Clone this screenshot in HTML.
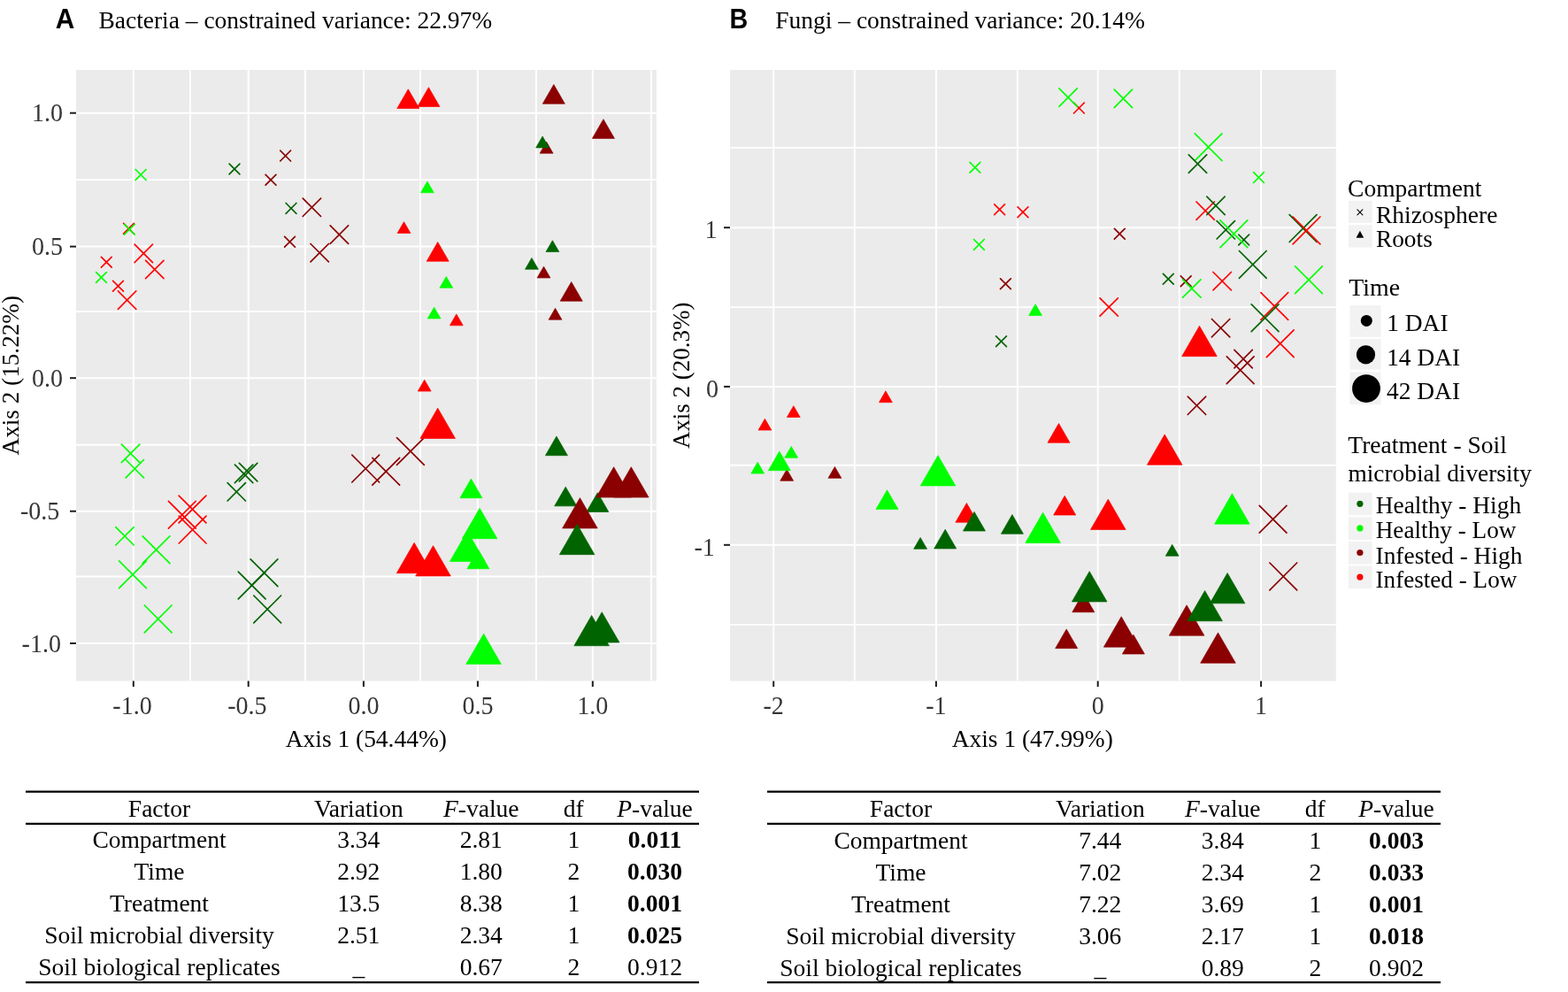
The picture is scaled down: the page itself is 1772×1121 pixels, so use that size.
<!DOCTYPE html><html><head><meta charset="utf-8"><title>Figure</title>
<style>html,body{margin:0;padding:0;background:#fff;}svg{display:block;}</style></head><body>
<svg width="1772" height="1121" viewBox="0 0 1772 1121" font-family="'Liberation Serif','Times New Roman',serif">
<defs>
<clipPath id="ca"><rect x="86" y="79" width="655.9" height="690.5"/></clipPath>
<clipPath id="cb"><rect x="825" y="79" width="684.8" height="690.6"/></clipPath>
</defs>
<rect width="1772" height="1121" fill="#fff"/>
<text x="62.86" y="31.7" font-size="31" font-family="'Liberation Sans',Arial,sans-serif" font-weight="bold" textLength="21.53" lengthAdjust="spacingAndGlyphs">A</text>
<text x="111.41" y="31.6" font-size="28" textLength="444.83" lengthAdjust="spacingAndGlyphs">Bacteria – constrained variance: 22.97%</text>
<text x="824.38" y="31.7" font-size="31" font-family="'Liberation Sans',Arial,sans-serif" font-weight="bold" textLength="20.72" lengthAdjust="spacingAndGlyphs">B</text>
<text x="876.21" y="31.6" font-size="28" textLength="417.83" lengthAdjust="spacingAndGlyphs">Fungi – constrained variance: 20.14%</text>
<rect x="86" y="79" width="655.9" height="690.5" fill="#EBEBEB"/>
<g clip-path="url(#ca)">
<g stroke="#FFFFFF" fill="none">
<line x1="214.9" y1="79" x2="214.9" y2="769.5" stroke-width="1.9"/>
<line x1="344.8" y1="79" x2="344.8" y2="769.5" stroke-width="1.9"/>
<line x1="475" y1="79" x2="475" y2="769.5" stroke-width="1.9"/>
<line x1="605.9" y1="79" x2="605.9" y2="769.5" stroke-width="1.9"/>
<line x1="736" y1="79" x2="736" y2="769.5" stroke-width="1.9"/>
<line x1="86" y1="203.1" x2="741.9" y2="203.1" stroke-width="1.9"/>
<line x1="86" y1="352" x2="741.9" y2="352" stroke-width="1.9"/>
<line x1="86" y1="502.7" x2="741.9" y2="502.7" stroke-width="1.9"/>
<line x1="86" y1="651.5" x2="741.9" y2="651.5" stroke-width="1.9"/>
<line x1="150.8" y1="79" x2="150.8" y2="769.5" stroke-width="2.0"/>
<line x1="280.7" y1="79" x2="280.7" y2="769.5" stroke-width="2.0"/>
<line x1="410.9" y1="79" x2="410.9" y2="769.5" stroke-width="2.0"/>
<line x1="539.9" y1="79" x2="539.9" y2="769.5" stroke-width="2.0"/>
<line x1="669.8" y1="79" x2="669.8" y2="769.5" stroke-width="2.0"/>
<line x1="86" y1="127.7" x2="741.9" y2="127.7" stroke-width="2.0"/>
<line x1="86" y1="278.6" x2="741.9" y2="278.6" stroke-width="2.0"/>
<line x1="86" y1="427.2" x2="741.9" y2="427.2" stroke-width="2.0"/>
<line x1="86" y1="577.7" x2="741.9" y2="577.7" stroke-width="2.0"/>
<line x1="86" y1="727" x2="741.9" y2="727" stroke-width="2.0"/>
</g>
</g>
<g stroke="#1E1E1E" stroke-width="2">
<line x1="150.8" y1="769.5" x2="150.8" y2="776"/>
<line x1="280.7" y1="769.5" x2="280.7" y2="776"/>
<line x1="410.9" y1="769.5" x2="410.9" y2="776"/>
<line x1="539.9" y1="769.5" x2="539.9" y2="776"/>
<line x1="669.8" y1="769.5" x2="669.8" y2="776"/>
<line x1="79" y1="127.7" x2="86" y2="127.7"/>
<line x1="79" y1="278.6" x2="86" y2="278.6"/>
<line x1="79" y1="427.2" x2="86" y2="427.2"/>
<line x1="79" y1="577.7" x2="86" y2="577.7"/>
<line x1="79" y1="727" x2="86" y2="727"/>
</g>
<rect x="825" y="79" width="684.8" height="690.6" fill="#EBEBEB"/>
<g clip-path="url(#cb)">
<g stroke="#FFFFFF" fill="none">
<line x1="965.8" y1="79" x2="965.8" y2="769.6" stroke-width="1.9"/>
<line x1="1149.9" y1="79" x2="1149.9" y2="769.6" stroke-width="1.9"/>
<line x1="1332.8" y1="79" x2="1332.8" y2="769.6" stroke-width="1.9"/>
<line x1="825" y1="166.9" x2="1509.8" y2="166.9" stroke-width="1.9"/>
<line x1="825" y1="347.1" x2="1509.8" y2="347.1" stroke-width="1.9"/>
<line x1="825" y1="525.8" x2="1509.8" y2="525.8" stroke-width="1.9"/>
<line x1="825" y1="705.9" x2="1509.8" y2="705.9" stroke-width="1.9"/>
<line x1="874.2" y1="79" x2="874.2" y2="769.6" stroke-width="2.0"/>
<line x1="1057.9" y1="79" x2="1057.9" y2="769.6" stroke-width="2.0"/>
<line x1="1240.7" y1="79" x2="1240.7" y2="769.6" stroke-width="2.0"/>
<line x1="1425.1" y1="79" x2="1425.1" y2="769.6" stroke-width="2.0"/>
<line x1="825" y1="257.2" x2="1509.8" y2="257.2" stroke-width="2.0"/>
<line x1="825" y1="436.9" x2="1509.8" y2="436.9" stroke-width="2.0"/>
<line x1="825" y1="615.8" x2="1509.8" y2="615.8" stroke-width="2.0"/>
</g>
</g>
<g stroke="#1E1E1E" stroke-width="2">
<line x1="874.2" y1="769.6" x2="874.2" y2="776.1"/>
<line x1="1057.9" y1="769.6" x2="1057.9" y2="776.1"/>
<line x1="1240.7" y1="769.6" x2="1240.7" y2="776.1"/>
<line x1="1425.1" y1="769.6" x2="1425.1" y2="776.1"/>
<line x1="818" y1="257.2" x2="825" y2="257.2"/>
<line x1="818" y1="436.9" x2="825" y2="436.9"/>
<line x1="818" y1="615.8" x2="825" y2="615.8"/>
</g>
<g clip-path="url(#ca)" stroke-linecap="round">
<g fill="none" stroke-width="1.7">
<path d="M153.2 191.5L165 203.3M153.2 203.3L165 191.5" stroke="#00FF00"/>
</g>
<g fill="none" stroke-width="1.7">
<path d="M259.1 185.1L270.9 196.9M259.1 196.9L270.9 185.1" stroke="#006400"/>
</g>
<g fill="none" stroke-width="1.7">
<path d="M316.7 170.2L328.5 182M316.7 182L328.5 170.2" stroke="#8B0000"/>
</g>
<g fill="none" stroke-width="1.7">
<path d="M300.1 197.3L311.9 209.1M300.1 209.1L311.9 197.3" stroke="#8B0000"/>
</g>
<g fill="none" stroke-width="1.7">
<path d="M323.1 229.5L334.9 241.3M323.1 241.3L334.9 229.5" stroke="#006400"/>
</g>
<g fill="none" stroke-width="1.7">
<path d="M321.6 267.4L333.4 279.2M321.6 279.2L333.4 267.4" stroke="#8B0000"/>
</g>
<g fill="none" stroke-width="1.7">
<path d="M139.6 252.3L151.4 264.1M139.6 264.1L151.4 252.3" stroke="#FF0000"/>
</g>
<g fill="none" stroke-width="1.7">
<path d="M140.4 253.3L152.2 265.1M140.4 265.1L152.2 253.3" stroke="#00FF00"/>
</g>
<g fill="none" stroke-width="1.7">
<path d="M114.4 290.3L126.2 302.1M114.4 302.1L126.2 290.3" stroke="#FF0000"/>
</g>
<g fill="none" stroke-width="1.7">
<path d="M108.6 307.6L120.4 319.4M108.6 319.4L120.4 307.6" stroke="#00FF00"/>
</g>
<g fill="none" stroke-width="1.7">
<path d="M127.6 317.4L139.4 329.2M127.6 329.2L139.4 317.4" stroke="#FF0000"/>
</g>
<g fill="none" stroke-width="1.7">
<path d="M342.2 224.1L362.6 244.5M342.2 244.5L362.6 224.1" stroke="#8B0000"/>
</g>
<g fill="none" stroke-width="1.7">
<path d="M373.2 254.9L393.6 275.3M373.2 275.3L393.6 254.9" stroke="#8B0000"/>
</g>
<g fill="none" stroke-width="1.7">
<path d="M351 275.5L371.4 295.9M351 295.9L371.4 275.5" stroke="#8B0000"/>
</g>
<g fill="none" stroke-width="1.7">
<path d="M152.1 276.2L172.5 296.6M152.1 296.6L172.5 276.2" stroke="#FF0000"/>
</g>
<g fill="none" stroke-width="1.7">
<path d="M164.6 294.3L185 314.7M164.6 314.7L185 294.3" stroke="#FF0000"/>
</g>
<g fill="none" stroke-width="1.7">
<path d="M133.4 328.9L153.8 349.3M133.4 349.3L153.8 328.9" stroke="#FF0000"/>
</g>
<g fill="none" stroke-width="1.7">
<path d="M137.4 502.2L157.8 522.6M137.4 522.6L157.8 502.2" stroke="#00FF00"/>
</g>
<g fill="none" stroke-width="1.7">
<path d="M142.1 519.5L162.5 539.9M142.1 539.9L162.5 519.5" stroke="#00FF00"/>
</g>
<g fill="none" stroke-width="1.7">
<path d="M265.4 525.2L285.8 545.6M265.4 545.6L285.8 525.2" stroke="#006400"/>
</g>
<g fill="none" stroke-width="1.7">
<path d="M270.4 523.4L290.8 543.8M270.4 543.8L290.8 523.4" stroke="#006400"/>
</g>
<g fill="none" stroke-width="1.7">
<path d="M257.1 545.6L277.5 566M257.1 566L277.5 545.6" stroke="#006400"/>
</g>
<g fill="none" stroke-width="1.7">
<path d="M130.8 595.6L151.2 616M130.8 616L151.2 595.6" stroke="#00FF00"/>
</g>
<g fill="none" stroke-width="1.7">
<path d="M190.4 566.4L221.2 597.2M190.4 597.2L221.2 566.4" stroke="#FF0000"/>
</g>
<g fill="none" stroke-width="1.7">
<path d="M202.1 560.1L232.9 590.9M202.1 590.9L232.9 560.1" stroke="#FF0000"/>
</g>
<g fill="none" stroke-width="1.7">
<path d="M202.2 583.2L233 614M202.2 614L233 583.2" stroke="#FF0000"/>
</g>
<g fill="none" stroke-width="1.7">
<path d="M161.1 605.8L191.9 636.6M161.1 636.6L191.9 605.8" stroke="#00FF00"/>
</g>
<g fill="none" stroke-width="1.7">
<path d="M134.6 633.9L165.4 664.7M134.6 664.7L165.4 633.9" stroke="#00FF00"/>
</g>
<g fill="none" stroke-width="1.7">
<path d="M163.3 684L194.1 714.8M163.3 714.8L194.1 684" stroke="#00FF00"/>
</g>
<g fill="none" stroke-width="1.7">
<path d="M283.1 631.9L313.9 662.7M283.1 662.7L313.9 631.9" stroke="#006400"/>
</g>
<g fill="none" stroke-width="1.7">
<path d="M269.3 646.1L300.1 676.9M269.3 676.9L300.1 646.1" stroke="#006400"/>
</g>
<g fill="none" stroke-width="1.7">
<path d="M286.8 673L317.6 703.8M286.8 703.8L317.6 673" stroke="#006400"/>
</g>
<g fill="none" stroke-width="1.7">
<path d="M397.8 514.2L428.6 545M397.8 545L428.6 514.2" stroke="#8B0000"/>
</g>
<g fill="none" stroke-width="1.7">
<path d="M420.8 517.4L451.6 548.2M420.8 548.2L451.6 517.4" stroke="#8B0000"/>
</g>
<g fill="none" stroke-width="1.7">
<path d="M448.5 494.6L479.3 525.4M448.5 525.4L479.3 494.6" stroke="#8B0000"/>
</g>
<g stroke-width="0.7" stroke-linejoin="miter" stroke-linecap="butt">
<path d="M617.6 160.35L625.01 173.18L610.19 173.18Z" fill="#8B0000" stroke="#8B0000"/>
</g>
<g stroke-width="0.7" stroke-linejoin="miter" stroke-linecap="butt">
<path d="M613.1 154.05L620.51 166.88L605.69 166.88Z" fill="#006400" stroke="#006400"/>
</g>
<g stroke-width="0.7" stroke-linejoin="miter" stroke-linecap="butt">
<path d="M482.9 204.95L490.31 217.78L475.49 217.78Z" fill="#00FF00" stroke="#00FF00"/>
</g>
<g stroke-width="0.7" stroke-linejoin="miter" stroke-linecap="butt">
<path d="M456.5 250.65L463.91 263.48L449.09 263.48Z" fill="#FF0000" stroke="#FF0000"/>
</g>
<g stroke-width="0.7" stroke-linejoin="miter" stroke-linecap="butt">
<path d="M624.4 271.75L631.81 284.58L616.99 284.58Z" fill="#006400" stroke="#006400"/>
</g>
<g stroke-width="0.7" stroke-linejoin="miter" stroke-linecap="butt">
<path d="M600.9 291.45L608.31 304.28L593.49 304.28Z" fill="#006400" stroke="#006400"/>
</g>
<g stroke-width="0.7" stroke-linejoin="miter" stroke-linecap="butt">
<path d="M614.5 301.15L621.91 313.98L607.09 313.98Z" fill="#8B0000" stroke="#8B0000"/>
</g>
<g stroke-width="0.7" stroke-linejoin="miter" stroke-linecap="butt">
<path d="M504.3 312.45L511.71 325.28L496.89 325.28Z" fill="#00FF00" stroke="#00FF00"/>
</g>
<g stroke-width="0.7" stroke-linejoin="miter" stroke-linecap="butt">
<path d="M490.6 347.15L498.01 359.98L483.19 359.98Z" fill="#00FF00" stroke="#00FF00"/>
</g>
<g stroke-width="0.7" stroke-linejoin="miter" stroke-linecap="butt">
<path d="M515.8 354.95L523.21 367.78L508.39 367.78Z" fill="#FF0000" stroke="#FF0000"/>
</g>
<g stroke-width="0.7" stroke-linejoin="miter" stroke-linecap="butt">
<path d="M627.5 348.35L634.91 361.18L620.09 361.18Z" fill="#8B0000" stroke="#8B0000"/>
</g>
<g stroke-width="0.7" stroke-linejoin="miter" stroke-linecap="butt">
<path d="M479.7 429.25L487.11 442.08L472.29 442.08Z" fill="#FF0000" stroke="#FF0000"/>
</g>
<g stroke-width="0.7" stroke-linejoin="miter" stroke-linecap="butt">
<path d="M461.3 100.84L473.82 122.53L448.78 122.53Z" fill="#FF0000" stroke="#FF0000"/>
</g>
<g stroke-width="0.7" stroke-linejoin="miter" stroke-linecap="butt">
<path d="M484.4 98.74L496.92 120.43L471.88 120.43Z" fill="#FF0000" stroke="#FF0000"/>
</g>
<g stroke-width="0.7" stroke-linejoin="miter" stroke-linecap="butt">
<path d="M625.8 95.54L638.32 117.23L613.28 117.23Z" fill="#8B0000" stroke="#8B0000"/>
</g>
<g stroke-width="0.7" stroke-linejoin="miter" stroke-linecap="butt">
<path d="M681.9 134.74L694.42 156.43L669.38 156.43Z" fill="#8B0000" stroke="#8B0000"/>
</g>
<g stroke-width="0.7" stroke-linejoin="miter" stroke-linecap="butt">
<path d="M494.7 273.54L507.22 295.23L482.18 295.23Z" fill="#FF0000" stroke="#FF0000"/>
</g>
<g stroke-width="0.7" stroke-linejoin="miter" stroke-linecap="butt">
<path d="M645.7 318.54L658.22 340.23L633.18 340.23Z" fill="#8B0000" stroke="#8B0000"/>
</g>
<g stroke-width="0.7" stroke-linejoin="miter" stroke-linecap="butt">
<path d="M628.9 493.04L641.42 514.73L616.38 514.73Z" fill="#006400" stroke="#006400"/>
</g>
<g stroke-width="0.7" stroke-linejoin="miter" stroke-linecap="butt">
<path d="M532.4 541.04L544.92 562.73L519.88 562.73Z" fill="#00FF00" stroke="#00FF00"/>
</g>
<g stroke-width="0.7" stroke-linejoin="miter" stroke-linecap="butt">
<path d="M639.2 550.14L651.72 571.83L626.68 571.83Z" fill="#006400" stroke="#006400"/>
</g>
<g stroke-width="0.7" stroke-linejoin="miter" stroke-linecap="butt">
<path d="M675.3 556.74L687.82 578.43L662.78 578.43Z" fill="#006400" stroke="#006400"/>
</g>
<g stroke-width="0.7" stroke-linejoin="miter" stroke-linecap="butt">
<path d="M494.7 461.14L514.5 495.43L474.9 495.43Z" fill="#FF0000" stroke="#FF0000"/>
</g>
<g stroke-width="0.7" stroke-linejoin="miter" stroke-linecap="butt">
<path d="M468.1 613.34L487.9 647.63L448.3 647.63Z" fill="#FF0000" stroke="#FF0000"/>
</g>
<g stroke-width="0.7" stroke-linejoin="miter" stroke-linecap="butt">
<path d="M489.5 616.64L509.3 650.93L469.7 650.93Z" fill="#FF0000" stroke="#FF0000"/>
</g>
<g stroke-width="0.7" stroke-linejoin="miter" stroke-linecap="butt">
<path d="M528.2 600.14L548 634.43L508.4 634.43Z" fill="#00FF00" stroke="#00FF00"/>
</g>
<g stroke-width="0.7" stroke-linejoin="miter" stroke-linecap="butt">
<path d="M540.4 621.04L552.92 642.73L527.88 642.73Z" fill="#00FF00" stroke="#00FF00"/>
</g>
<g stroke-width="0.7" stroke-linejoin="miter" stroke-linecap="butt">
<path d="M542.1 574.34L561.9 608.63L522.3 608.63Z" fill="#00FF00" stroke="#00FF00"/>
</g>
<g stroke-width="0.7" stroke-linejoin="miter" stroke-linecap="butt">
<path d="M693.6 527.74L713.4 562.03L673.8 562.03Z" fill="#8B0000" stroke="#8B0000"/>
</g>
<g stroke-width="0.7" stroke-linejoin="miter" stroke-linecap="butt">
<path d="M713.3 527.74L733.1 562.03L693.5 562.03Z" fill="#8B0000" stroke="#8B0000"/>
</g>
<g stroke-width="0.7" stroke-linejoin="miter" stroke-linecap="butt">
<path d="M655.4 562.64L675.2 596.93L635.6 596.93Z" fill="#8B0000" stroke="#8B0000"/>
</g>
<g stroke-width="0.7" stroke-linejoin="miter" stroke-linecap="butt">
<path d="M652.1 592.34L671.9 626.63L632.3 626.63Z" fill="#006400" stroke="#006400"/>
</g>
<g stroke-width="0.7" stroke-linejoin="miter" stroke-linecap="butt">
<path d="M546.6 716.14L566.4 750.43L526.8 750.43Z" fill="#00FF00" stroke="#00FF00"/>
</g>
<g stroke-width="0.7" stroke-linejoin="miter" stroke-linecap="butt">
<path d="M668.6 695.44L688.4 729.73L648.8 729.73Z" fill="#006400" stroke="#006400"/>
</g>
<g stroke-width="0.7" stroke-linejoin="miter" stroke-linecap="butt">
<path d="M680.2 691.74L700 726.03L660.4 726.03Z" fill="#006400" stroke="#006400"/>
</g>
</g>
<g clip-path="url(#cb)" stroke-linecap="round">
<g fill="none" stroke-width="1.7">
<path d="M1096 183.3L1107.8 195.1M1096 195.1L1107.8 183.3" stroke="#00FF00"/>
</g>
<g fill="none" stroke-width="1.7">
<path d="M1123.7 230.9L1135.5 242.7M1123.7 242.7L1135.5 230.9" stroke="#FF0000"/>
</g>
<g fill="none" stroke-width="1.7">
<path d="M1150.1 233.9L1161.9 245.7M1150.1 245.7L1161.9 233.9" stroke="#FF0000"/>
</g>
<g fill="none" stroke-width="1.7">
<path d="M1100.5 270.5L1112.3 282.3M1100.5 282.3L1112.3 270.5" stroke="#00FF00"/>
</g>
<g fill="none" stroke-width="1.7">
<path d="M1259.4 258.4L1271.2 270.2M1259.4 270.2L1271.2 258.4" stroke="#8B0000"/>
</g>
<g fill="none" stroke-width="1.7">
<path d="M1130.5 314.9L1142.3 326.7M1130.5 326.7L1142.3 314.9" stroke="#8B0000"/>
</g>
<g fill="none" stroke-width="1.7">
<path d="M1125.6 379.9L1137.4 391.7M1125.6 391.7L1137.4 379.9" stroke="#006400"/>
</g>
<g fill="none" stroke-width="1.7">
<path d="M1416.6 194.7L1428.4 206.5M1416.6 206.5L1428.4 194.7" stroke="#00FF00"/>
</g>
<g fill="none" stroke-width="1.7">
<path d="M1314.4 309.3L1326.2 321.1M1314.4 321.1L1326.2 309.3" stroke="#006400"/>
</g>
<g fill="none" stroke-width="1.7">
<path d="M1334.3 311.8L1346.1 323.6M1334.3 323.6L1346.1 311.8" stroke="#8B0000"/>
</g>
<g fill="none" stroke-width="1.7">
<path d="M1399.8 265.1L1411.6 276.9M1399.8 276.9L1411.6 265.1" stroke="#006400"/>
</g>
<g fill="none" stroke-width="1.7">
<path d="M1213.5 116.2L1225.3 128M1213.5 128L1225.3 116.2" stroke="#FF0000"/>
</g>
<g fill="none" stroke-width="1.7">
<path d="M1196.9 99.9L1217.3 120.3M1196.9 120.3L1217.3 99.9" stroke="#00FF00"/>
</g>
<g fill="none" stroke-width="1.7">
<path d="M1259.2 101.2L1279.6 121.6M1259.2 121.6L1279.6 101.2" stroke="#00FF00"/>
</g>
<g fill="none" stroke-width="1.7">
<path d="M1352 228L1372.4 248.4M1352 248.4L1372.4 228" stroke="#FF0000"/>
</g>
<g fill="none" stroke-width="1.7">
<path d="M1363.8 222.2L1384.2 242.6M1363.8 242.6L1384.2 222.2" stroke="#006400"/>
</g>
<g fill="none" stroke-width="1.7">
<path d="M1375.1 249.6L1395.5 270M1375.1 270L1395.5 249.6" stroke="#006400"/>
</g>
<g fill="none" stroke-width="1.7">
<path d="M1336.6 315.8L1357 336.2M1336.6 336.2L1357 315.8" stroke="#00FF00"/>
</g>
<g fill="none" stroke-width="1.7">
<path d="M1371 307.5L1391.4 327.9M1371 327.9L1391.4 307.5" stroke="#FF0000"/>
</g>
<g fill="none" stroke-width="1.7">
<path d="M1243 336.8L1263.4 357.2M1243 357.2L1263.4 336.8" stroke="#FF0000"/>
</g>
<g fill="none" stroke-width="1.7">
<path d="M1369.4 360.5L1389.8 380.9M1369.4 380.9L1389.8 360.5" stroke="#8B0000"/>
</g>
<g fill="none" stroke-width="1.7">
<path d="M1394.9 395.4L1415.3 415.8M1394.9 415.8L1415.3 395.4" stroke="#8B0000"/>
</g>
<g fill="none" stroke-width="1.7">
<path d="M1342.3 448.1L1362.7 468.5M1342.3 468.5L1362.7 448.1" stroke="#8B0000"/>
</g>
<g fill="none" stroke-width="1.7">
<path d="M1350.2 150.9L1381 181.7M1350.2 181.7L1381 150.9" stroke="#00FF00"/>
</g>
<g fill="none" stroke-width="1.7">
<path d="M1343.3 174.9L1363.7 195.3M1343.3 195.3L1363.7 174.9" stroke="#006400"/>
</g>
<g fill="none" stroke-width="1.7">
<path d="M1379 248.9L1409.8 279.7M1379 279.7L1409.8 248.9" stroke="#00FF00"/>
</g>
<g fill="none" stroke-width="1.7">
<path d="M1457.2 242.7L1488 273.5M1457.2 273.5L1488 242.7" stroke="#006400"/>
</g>
<g fill="none" stroke-width="1.7">
<path d="M1461.1 245L1491.9 275.8M1461.1 275.8L1491.9 245" stroke="#FF0000"/>
</g>
<g fill="none" stroke-width="1.7">
<path d="M1400.4 283.5L1431.2 314.3M1400.4 314.3L1431.2 283.5" stroke="#006400"/>
</g>
<g fill="none" stroke-width="1.7">
<path d="M1463.6 300.9L1494.4 331.7M1463.6 331.7L1494.4 300.9" stroke="#00FF00"/>
</g>
<g fill="none" stroke-width="1.7">
<path d="M1424.9 330.6L1455.7 361.4M1424.9 361.4L1455.7 330.6" stroke="#FF0000"/>
</g>
<g fill="none" stroke-width="1.7">
<path d="M1414.2 343.8L1445 374.6M1414.2 374.6L1445 343.8" stroke="#006400"/>
</g>
<g fill="none" stroke-width="1.7">
<path d="M1431.4 372.8L1462.2 403.6M1431.4 403.6L1462.2 372.8" stroke="#FF0000"/>
</g>
<g fill="none" stroke-width="1.7">
<path d="M1386.3 402.9L1417.1 433.7M1386.3 433.7L1417.1 402.9" stroke="#8B0000"/>
</g>
<g fill="none" stroke-width="1.7">
<path d="M1423.2 571.3L1454 602.1M1423.2 602.1L1454 571.3" stroke="#8B0000"/>
</g>
<g fill="none" stroke-width="1.7">
<path d="M1434.9 636L1465.7 666.8M1434.9 666.8L1465.7 636" stroke="#8B0000"/>
</g>
<g stroke-width="0.7" stroke-linejoin="miter" stroke-linecap="butt">
<path d="M1000.9 441.85L1008.31 454.68L993.49 454.68Z" fill="#FF0000" stroke="#FF0000"/>
</g>
<g stroke-width="0.7" stroke-linejoin="miter" stroke-linecap="butt">
<path d="M896.8 458.65L904.21 471.48L889.39 471.48Z" fill="#FF0000" stroke="#FF0000"/>
</g>
<g stroke-width="0.7" stroke-linejoin="miter" stroke-linecap="butt">
<path d="M864.4 473.25L871.81 486.08L856.99 486.08Z" fill="#FF0000" stroke="#FF0000"/>
</g>
<g stroke-width="0.7" stroke-linejoin="miter" stroke-linecap="butt">
<path d="M894.2 504.45L901.61 517.28L886.79 517.28Z" fill="#00FF00" stroke="#00FF00"/>
</g>
<g stroke-width="0.7" stroke-linejoin="miter" stroke-linecap="butt">
<path d="M889.2 530.45L896.61 543.28L881.79 543.28Z" fill="#8B0000" stroke="#8B0000"/>
</g>
<g stroke-width="0.7" stroke-linejoin="miter" stroke-linecap="butt">
<path d="M880.8 510.04L893.32 531.73L868.28 531.73Z" fill="#00FF00" stroke="#00FF00"/>
</g>
<g stroke-width="0.7" stroke-linejoin="miter" stroke-linecap="butt">
<path d="M856.2 522.25L863.61 535.08L848.79 535.08Z" fill="#00FF00" stroke="#00FF00"/>
</g>
<g stroke-width="0.7" stroke-linejoin="miter" stroke-linecap="butt">
<path d="M943.4 527.45L950.81 540.28L935.99 540.28Z" fill="#8B0000" stroke="#8B0000"/>
</g>
<g stroke-width="0.7" stroke-linejoin="miter" stroke-linecap="butt">
<path d="M1040.1 607.45L1047.51 620.28L1032.69 620.28Z" fill="#006400" stroke="#006400"/>
</g>
<g stroke-width="0.7" stroke-linejoin="miter" stroke-linecap="butt">
<path d="M1170.1 343.65L1177.51 356.48L1162.69 356.48Z" fill="#00FF00" stroke="#00FF00"/>
</g>
<g stroke-width="0.7" stroke-linejoin="miter" stroke-linecap="butt">
<path d="M1324.7 615.35L1332.11 628.18L1317.29 628.18Z" fill="#006400" stroke="#006400"/>
</g>
<g stroke-width="0.7" stroke-linejoin="miter" stroke-linecap="butt">
<path d="M1002.5 553.74L1015.02 575.43L989.98 575.43Z" fill="#00FF00" stroke="#00FF00"/>
</g>
<g stroke-width="0.7" stroke-linejoin="miter" stroke-linecap="butt">
<path d="M1092.4 568.54L1104.92 590.23L1079.88 590.23Z" fill="#FF0000" stroke="#FF0000"/>
</g>
<g stroke-width="0.7" stroke-linejoin="miter" stroke-linecap="butt">
<path d="M1101 578.34L1113.52 600.03L1088.48 600.03Z" fill="#006400" stroke="#006400"/>
</g>
<g stroke-width="0.7" stroke-linejoin="miter" stroke-linecap="butt">
<path d="M1143.9 581.54L1156.42 603.23L1131.38 603.23Z" fill="#006400" stroke="#006400"/>
</g>
<g stroke-width="0.7" stroke-linejoin="miter" stroke-linecap="butt">
<path d="M1068.2 598.24L1080.72 619.93L1055.68 619.93Z" fill="#006400" stroke="#006400"/>
</g>
<g stroke-width="0.7" stroke-linejoin="miter" stroke-linecap="butt">
<path d="M1196.5 478.54L1209.02 500.23L1183.98 500.23Z" fill="#FF0000" stroke="#FF0000"/>
</g>
<g stroke-width="0.7" stroke-linejoin="miter" stroke-linecap="butt">
<path d="M1203.2 560.34L1215.72 582.03L1190.68 582.03Z" fill="#FF0000" stroke="#FF0000"/>
</g>
<g stroke-width="0.7" stroke-linejoin="miter" stroke-linecap="butt">
<path d="M1224.3 670.04L1236.82 691.73L1211.78 691.73Z" fill="#8B0000" stroke="#8B0000"/>
</g>
<g stroke-width="0.7" stroke-linejoin="miter" stroke-linecap="butt">
<path d="M1205.2 710.94L1217.72 732.63L1192.68 732.63Z" fill="#8B0000" stroke="#8B0000"/>
</g>
<g stroke-width="0.7" stroke-linejoin="miter" stroke-linecap="butt">
<path d="M1060 514.64L1079.8 548.93L1040.2 548.93Z" fill="#00FF00" stroke="#00FF00"/>
</g>
<g stroke-width="0.7" stroke-linejoin="miter" stroke-linecap="butt">
<path d="M1355.5 368.34L1375.3 402.63L1335.7 402.63Z" fill="#FF0000" stroke="#FF0000"/>
</g>
<g stroke-width="0.7" stroke-linejoin="miter" stroke-linecap="butt">
<path d="M1316.2 490.94L1336 525.23L1296.4 525.23Z" fill="#FF0000" stroke="#FF0000"/>
</g>
<g stroke-width="0.7" stroke-linejoin="miter" stroke-linecap="butt">
<path d="M1252.3 564.14L1272.1 598.43L1232.5 598.43Z" fill="#FF0000" stroke="#FF0000"/>
</g>
<g stroke-width="0.7" stroke-linejoin="miter" stroke-linecap="butt">
<path d="M1178.6 579.14L1198.4 613.43L1158.8 613.43Z" fill="#00FF00" stroke="#00FF00"/>
</g>
<g stroke-width="0.7" stroke-linejoin="miter" stroke-linecap="butt">
<path d="M1392.4 557.84L1412.2 592.13L1372.6 592.13Z" fill="#00FF00" stroke="#00FF00"/>
</g>
<g stroke-width="0.7" stroke-linejoin="miter" stroke-linecap="butt">
<path d="M1231.2 645.64L1251 679.93L1211.4 679.93Z" fill="#006400" stroke="#006400"/>
</g>
<g stroke-width="0.7" stroke-linejoin="miter" stroke-linecap="butt">
<path d="M1267.2 696.84L1287 731.13L1247.4 731.13Z" fill="#8B0000" stroke="#8B0000"/>
</g>
<g stroke-width="0.7" stroke-linejoin="miter" stroke-linecap="butt">
<path d="M1280.9 717.34L1293.42 739.03L1268.38 739.03Z" fill="#8B0000" stroke="#8B0000"/>
</g>
<g stroke-width="0.7" stroke-linejoin="miter" stroke-linecap="butt">
<path d="M1341.1 683.84L1360.9 718.13L1321.3 718.13Z" fill="#8B0000" stroke="#8B0000"/>
</g>
<g stroke-width="0.7" stroke-linejoin="miter" stroke-linecap="butt">
<path d="M1387.1 647.54L1406.9 681.83L1367.3 681.83Z" fill="#006400" stroke="#006400"/>
</g>
<g stroke-width="0.7" stroke-linejoin="miter" stroke-linecap="butt">
<path d="M1361.6 667.44L1381.4 701.73L1341.8 701.73Z" fill="#006400" stroke="#006400"/>
</g>
<g stroke-width="0.7" stroke-linejoin="miter" stroke-linecap="butt">
<path d="M1376.5 714.94L1396.3 749.23L1356.7 749.23Z" fill="#8B0000" stroke="#8B0000"/>
</g>
</g>
<text x="71" y="137.3" font-size="29" text-anchor="end" fill="#363636" textLength="35" lengthAdjust="spacingAndGlyphs">1.0</text>
<text x="71" y="288.2" font-size="29" text-anchor="end" fill="#363636" textLength="35" lengthAdjust="spacingAndGlyphs">0.5</text>
<text x="71" y="436.8" font-size="29" text-anchor="end" fill="#363636" textLength="35" lengthAdjust="spacingAndGlyphs">0.0</text>
<text x="67.2" y="587.3" font-size="29" text-anchor="end" fill="#363636" textLength="44.32" lengthAdjust="spacingAndGlyphs">-0.5</text>
<text x="68.9" y="736.6" font-size="29" text-anchor="end" fill="#363636" textLength="44.32" lengthAdjust="spacingAndGlyphs">-1.0</text>
<text x="149.5" y="806.6" font-size="29" text-anchor="middle" fill="#363636" textLength="44.32" lengthAdjust="spacingAndGlyphs">-1.0</text>
<text x="279.4" y="806.6" font-size="29" text-anchor="middle" fill="#363636" textLength="44.32" lengthAdjust="spacingAndGlyphs">-0.5</text>
<text x="410.9" y="806.6" font-size="29" text-anchor="middle" fill="#363636" textLength="35" lengthAdjust="spacingAndGlyphs">0.0</text>
<text x="539.9" y="806.6" font-size="29" text-anchor="middle" fill="#363636" textLength="35" lengthAdjust="spacingAndGlyphs">0.5</text>
<text x="669.8" y="806.6" font-size="29" text-anchor="middle" fill="#363636" textLength="35" lengthAdjust="spacingAndGlyphs">1.0</text>
<text x="810.6" y="269.3" font-size="29" text-anchor="end" fill="#363636" textLength="14" lengthAdjust="spacingAndGlyphs">1</text>
<text x="812.1" y="449" font-size="29" text-anchor="end" fill="#363636" textLength="14" lengthAdjust="spacingAndGlyphs">0</text>
<text x="807.7" y="627.9" font-size="29" text-anchor="end" fill="#363636" textLength="23.32" lengthAdjust="spacingAndGlyphs">-1</text>
<text x="874.2" y="806.6" font-size="29" text-anchor="middle" fill="#363636" textLength="23.32" lengthAdjust="spacingAndGlyphs">-2</text>
<text x="1057.9" y="806.6" font-size="29" text-anchor="middle" fill="#363636" textLength="23.32" lengthAdjust="spacingAndGlyphs">-1</text>
<text x="1240.7" y="806.6" font-size="29" text-anchor="middle" fill="#363636" textLength="14" lengthAdjust="spacingAndGlyphs">0</text>
<text x="1425.1" y="806.6" font-size="29" text-anchor="middle" fill="#363636" textLength="14" lengthAdjust="spacingAndGlyphs">1</text>
<text x="322.73" y="844" font-size="28" textLength="182.17" lengthAdjust="spacingAndGlyphs">Axis 1 (54.44%)</text>
<text x="1075.73" y="844" font-size="28" textLength="182.07" lengthAdjust="spacingAndGlyphs">Axis 1 (47.99%)</text>
<text transform="translate(21,424.2) rotate(-90)" font-size="27.5" text-anchor="middle" textLength="180.4" lengthAdjust="spacingAndGlyphs">Axis 2 (15.22%)</text>
<text transform="translate(778.8,424.3) rotate(-90)" font-size="27.5" text-anchor="middle" textLength="165.6" lengthAdjust="spacingAndGlyphs">Axis 2 (20.3%)</text>
<text x="1523.07" y="221.6" font-size="27.5" textLength="151.29" lengthAdjust="spacingAndGlyphs">Compartment</text>
<rect x="1524" y="226.8" width="26.6" height="25.1" fill="#F2F2F2"/>
<rect x="1524" y="254.3" width="26.6" height="25.3" fill="#F2F2F2"/>
<text x="1554.91" y="251.8" font-size="27.5" textLength="137.45" lengthAdjust="spacingAndGlyphs">Rhizosphere</text>
<text x="1554.91" y="279" font-size="27.5" textLength="63.88" lengthAdjust="spacingAndGlyphs">Roots</text>
<path d="M1533.9 236.9L1539.9 242.9M1533.9 242.9L1539.9 236.9" stroke="#000" stroke-width="1.1" stroke-linecap="round"/>
<path d="M1536.9 261.3L1540.8 268.4L1533 268.4Z" fill="#000" stroke="#000" stroke-width="0.5"/>
<text x="1524.2" y="334" font-size="27.5" textLength="57.85" lengthAdjust="spacingAndGlyphs">Time</text>
<rect x="1525.4" y="345.1" width="35.2" height="35.7" fill="#F2F2F2"/>
<rect x="1525.4" y="383.1" width="35.2" height="34.6" fill="#F2F2F2"/>
<rect x="1525.4" y="420.4" width="35.2" height="36.7" fill="#F2F2F2"/>
<circle cx="1544.3" cy="362.4" r="6.5" fill="#000"/>
<circle cx="1543.5" cy="400.8" r="10.6" fill="#000"/>
<circle cx="1544" cy="439.1" r="15.9" fill="#000"/>
<text x="1567.19" y="373.7" font-size="27.5" textLength="69.38" lengthAdjust="spacingAndGlyphs">1 DAI</text>
<text x="1567.19" y="413.1" font-size="27.5" textLength="82.87" lengthAdjust="spacingAndGlyphs">14 DAI</text>
<text x="1566.96" y="450.9" font-size="27.5" textLength="83.1" lengthAdjust="spacingAndGlyphs">42 DAI</text>
<text x="1523.31" y="511.9" font-size="27.5" textLength="179.54" lengthAdjust="spacingAndGlyphs">Treatment - Soil</text>
<text x="1523.43" y="544.4" font-size="27.5" textLength="207.48" lengthAdjust="spacingAndGlyphs">microbial diversity</text>
<rect x="1523.8" y="556.7" width="26.9" height="25.6" fill="#F2F2F2"/>
<circle cx="1536.9" cy="569.3" r="3.6" fill="#006400"/>
<text x="1554.71" y="580" font-size="27.5" textLength="164.45" lengthAdjust="spacingAndGlyphs">Healthy - High</text>
<rect x="1523.8" y="584.3" width="26.9" height="25.6" fill="#F2F2F2"/>
<circle cx="1536.9" cy="596.9" r="3.6" fill="#00FF00"/>
<text x="1554.72" y="608.4" font-size="27.5" textLength="158.7" lengthAdjust="spacingAndGlyphs">Healthy - Low</text>
<rect x="1523.8" y="611.9" width="26.9" height="25.6" fill="#F2F2F2"/>
<circle cx="1536.9" cy="624.5" r="3.6" fill="#8B0000"/>
<text x="1554.51" y="636.7" font-size="27.5" textLength="165.95" lengthAdjust="spacingAndGlyphs">Infested - High</text>
<rect x="1523.8" y="639.5" width="26.9" height="25.6" fill="#F2F2F2"/>
<circle cx="1536.9" cy="652.1" r="3.6" fill="#FF0000"/>
<text x="1554.52" y="663.9" font-size="27.5" textLength="159.8" lengthAdjust="spacingAndGlyphs">Infested - Low</text>
<g stroke="#000" stroke-width="2.3">
<line x1="29" y1="894.6" x2="790" y2="894.6"/>
<line x1="29" y1="930.8" x2="790" y2="930.8"/>
<line x1="29" y1="1110.2" x2="790" y2="1110.2"/>
</g>
<text x="180" y="922.9" font-size="27.5" text-anchor="middle">Factor</text>
<text x="405.3" y="922.9" font-size="27.5" text-anchor="middle">Variation</text>
<text x="543.8" y="922.9" font-size="27.5" text-anchor="middle"><tspan font-style="italic">F</tspan>-value</text>
<text x="648.3" y="922.9" font-size="27.5" text-anchor="middle">df</text>
<text x="740" y="922.9" font-size="27.5" text-anchor="middle"><tspan font-style="italic">P</tspan>-value</text>
<text x="180" y="958.4" font-size="27.5" text-anchor="middle">Compartment</text>
<text x="405.3" y="958.4" font-size="27.5" text-anchor="middle">3.34</text>
<text x="543.8" y="958.4" font-size="27.5" text-anchor="middle">2.81</text>
<text x="648.3" y="958.4" font-size="27.5" text-anchor="middle">1</text>
<text x="740" y="958.4" font-size="27.5" text-anchor="middle" font-weight="bold">0.011</text>
<text x="180" y="994.4" font-size="27.5" text-anchor="middle">Time</text>
<text x="405.3" y="994.4" font-size="27.5" text-anchor="middle">2.92</text>
<text x="543.8" y="994.4" font-size="27.5" text-anchor="middle">1.80</text>
<text x="648.3" y="994.4" font-size="27.5" text-anchor="middle">2</text>
<text x="740" y="994.4" font-size="27.5" text-anchor="middle" font-weight="bold">0.030</text>
<text x="180" y="1030.4" font-size="27.5" text-anchor="middle">Treatment</text>
<text x="405.3" y="1030.4" font-size="27.5" text-anchor="middle">13.5</text>
<text x="543.8" y="1030.4" font-size="27.5" text-anchor="middle">8.38</text>
<text x="648.3" y="1030.4" font-size="27.5" text-anchor="middle">1</text>
<text x="740" y="1030.4" font-size="27.5" text-anchor="middle" font-weight="bold">0.001</text>
<text x="180" y="1066.4" font-size="27.5" text-anchor="middle">Soil microbial diversity</text>
<text x="405.3" y="1066.4" font-size="27.5" text-anchor="middle">2.51</text>
<text x="543.8" y="1066.4" font-size="27.5" text-anchor="middle">2.34</text>
<text x="648.3" y="1066.4" font-size="27.5" text-anchor="middle">1</text>
<text x="740" y="1066.4" font-size="27.5" text-anchor="middle" font-weight="bold">0.025</text>
<text x="180" y="1102.4" font-size="27.5" text-anchor="middle">Soil biological replicates</text>
<text x="405.3" y="1102.4" font-size="27.5" text-anchor="middle">_</text>
<text x="543.8" y="1102.4" font-size="27.5" text-anchor="middle">0.67</text>
<text x="648.3" y="1102.4" font-size="27.5" text-anchor="middle">2</text>
<text x="740" y="1102.4" font-size="27.5" text-anchor="middle">0.912</text>
<g stroke="#000" stroke-width="2.3">
<line x1="867" y1="894.6" x2="1628" y2="894.6"/>
<line x1="867" y1="930.8" x2="1628" y2="930.8"/>
<line x1="867" y1="1110.2" x2="1628" y2="1110.2"/>
</g>
<text x="1018" y="922.9" font-size="27.5" text-anchor="middle">Factor</text>
<text x="1243.3" y="922.9" font-size="27.5" text-anchor="middle">Variation</text>
<text x="1381.8" y="922.9" font-size="27.5" text-anchor="middle"><tspan font-style="italic">F</tspan>-value</text>
<text x="1486.3" y="922.9" font-size="27.5" text-anchor="middle">df</text>
<text x="1578" y="922.9" font-size="27.5" text-anchor="middle"><tspan font-style="italic">P</tspan>-value</text>
<text x="1018" y="958.9" font-size="27.5" text-anchor="middle">Compartment</text>
<text x="1243.3" y="958.9" font-size="27.5" text-anchor="middle">7.44</text>
<text x="1381.8" y="958.9" font-size="27.5" text-anchor="middle">3.84</text>
<text x="1486.3" y="958.9" font-size="27.5" text-anchor="middle">1</text>
<text x="1578" y="958.9" font-size="27.5" text-anchor="middle" font-weight="bold">0.003</text>
<text x="1018" y="994.9" font-size="27.5" text-anchor="middle">Time</text>
<text x="1243.3" y="994.9" font-size="27.5" text-anchor="middle">7.02</text>
<text x="1381.8" y="994.9" font-size="27.5" text-anchor="middle">2.34</text>
<text x="1486.3" y="994.9" font-size="27.5" text-anchor="middle">2</text>
<text x="1578" y="994.9" font-size="27.5" text-anchor="middle" font-weight="bold">0.033</text>
<text x="1018" y="1030.9" font-size="27.5" text-anchor="middle">Treatment</text>
<text x="1243.3" y="1030.9" font-size="27.5" text-anchor="middle">7.22</text>
<text x="1381.8" y="1030.9" font-size="27.5" text-anchor="middle">3.69</text>
<text x="1486.3" y="1030.9" font-size="27.5" text-anchor="middle">1</text>
<text x="1578" y="1030.9" font-size="27.5" text-anchor="middle" font-weight="bold">0.001</text>
<text x="1018" y="1066.9" font-size="27.5" text-anchor="middle">Soil microbial diversity</text>
<text x="1243.3" y="1066.9" font-size="27.5" text-anchor="middle">3.06</text>
<text x="1381.8" y="1066.9" font-size="27.5" text-anchor="middle">2.17</text>
<text x="1486.3" y="1066.9" font-size="27.5" text-anchor="middle">1</text>
<text x="1578" y="1066.9" font-size="27.5" text-anchor="middle" font-weight="bold">0.018</text>
<text x="1018" y="1102.9" font-size="27.5" text-anchor="middle">Soil biological replicates</text>
<text x="1243.3" y="1102.9" font-size="27.5" text-anchor="middle">_</text>
<text x="1381.8" y="1102.9" font-size="27.5" text-anchor="middle">0.89</text>
<text x="1486.3" y="1102.9" font-size="27.5" text-anchor="middle">2</text>
<text x="1578" y="1102.9" font-size="27.5" text-anchor="middle">0.902</text>
</svg></body></html>
